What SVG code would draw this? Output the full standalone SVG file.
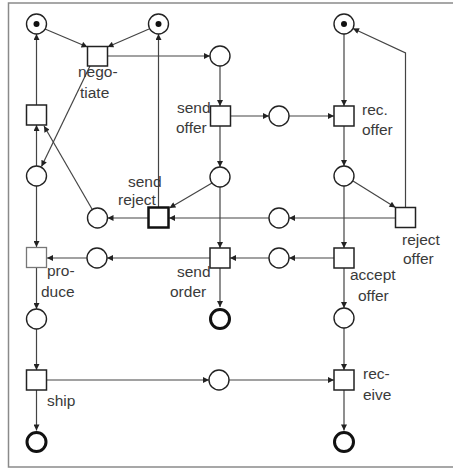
<svg xmlns="http://www.w3.org/2000/svg" width="453" height="469" viewBox="0 0 453 469">
<defs>
<marker id="ah" viewBox="0 0 10 10" refX="10" refY="5" markerWidth="7" markerHeight="6" markerUnits="userSpaceOnUse" orient="auto">
<path d="M0,0 L10,5 L0,10 z" fill="#222"/>
</marker>
</defs>
<style>
.frame{fill:none;stroke:#8a8a8a;stroke-width:1.5}
.pl{fill:#fff;stroke:#222;stroke-width:1.4}
.plf{fill:#fff;stroke:#111;stroke-width:3}
.tok{fill:#111}
.tr{fill:#fff;stroke:#222;stroke-width:1.5}
.trb{fill:#fff;stroke:#111;stroke-width:2.5}
.trg{fill:#fff;stroke:#777;stroke-width:1.3}
.arc{fill:none;stroke:#444;stroke-width:1.2;marker-end:url(#ah)}
.lbl{font-family:"Liberation Sans",Arial,sans-serif;font-size:15.5px;fill:#3a3a3a}
</style>
<rect class="frame" x="8.5" y="3" width="450" height="464"/>
<g id="connectors">
<line class="arc" x1="36.5" y1="105" x2="36.5" y2="34"/>
<line class="arc" x1="45" y1="29" x2="87.5" y2="47"/>
<line class="arc" x1="149" y1="29" x2="107.5" y2="47"/>
<line class="arc" x1="107.5" y1="56" x2="210" y2="56"/>
<line class="arc" x1="158.5" y1="207" x2="158.5" y2="34"/>
<line class="arc" x1="90" y1="66" x2="41.5" y2="166.5"/>
<line class="arc" x1="92" y1="209" x2="44" y2="126"/>
<line class="arc" x1="36.5" y1="166" x2="36.5" y2="125"/>
<line class="arc" x1="36.5" y1="186" x2="36.5" y2="247"/>
<line class="arc" x1="220" y1="66" x2="220" y2="106"/>
<line class="arc" x1="230" y1="116" x2="269" y2="116"/>
<line class="arc" x1="289" y1="116" x2="334" y2="116"/>
<line class="arc" x1="344" y1="34" x2="344" y2="106"/>
<line class="arc" x1="344" y1="126" x2="344" y2="166"/>
<line class="arc" x1="353" y1="181" x2="395.5" y2="207.5"/>
<line class="arc" x1="344" y1="186" x2="344" y2="248"/>
<line class="arc" x1="395.5" y1="218" x2="289" y2="218"/>
<line class="arc" x1="269" y1="218" x2="169" y2="218"/>
<line class="arc" x1="148" y1="218" x2="107.5" y2="218"/>
<line class="arc" x1="220" y1="126" x2="220" y2="167"/>
<line class="arc" x1="212" y1="183" x2="169.5" y2="208"/>
<line class="arc" x1="220" y1="187" x2="220" y2="248"/>
<line class="arc" x1="334" y1="258" x2="289" y2="258"/>
<line class="arc" x1="269" y1="258" x2="230" y2="258"/>
<line class="arc" x1="210" y1="258" x2="107" y2="258"/>
<line class="arc" x1="87" y1="258" x2="47" y2="258"/>
<line class="arc" x1="220" y1="268" x2="220" y2="307"/>
<line class="arc" x1="36.5" y1="267.5" x2="36.5" y2="309"/>
<line class="arc" x1="36.5" y1="329" x2="36.5" y2="370"/>
<line class="arc" x1="46.5" y1="380" x2="209" y2="380"/>
<line class="arc" x1="229" y1="380" x2="334" y2="380"/>
<line class="arc" x1="36.5" y1="390" x2="36.5" y2="430.5"/>
<line class="arc" x1="344" y1="268" x2="344" y2="308"/>
<line class="arc" x1="344" y1="328" x2="344" y2="370"/>
<line class="arc" x1="344" y1="390" x2="344" y2="430.5"/>
<polyline class="arc" points="405.5,207.5 405.5,53 353,28.5"/>
</g>
<g id="p1"><circle class="pl" cx="36.5" cy="24" r="10"/><circle class="tok" cx="36.5" cy="24" r="3"/></g>
<g id="p2"><circle class="pl" cx="158.5" cy="24" r="10"/><circle class="tok" cx="158.5" cy="24" r="3"/></g>
<g id="p3"><circle class="pl" cx="344" cy="24" r="10"/><circle class="tok" cx="344" cy="24" r="3"/></g>
<g id="p4"><circle class="pl" cx="220" cy="56" r="10"/></g>
<g id="p5"><circle class="pl" cx="279" cy="116" r="10"/></g>
<g id="p6"><circle class="pl" cx="36.5" cy="176" r="10"/></g>
<g id="p7"><circle class="pl" cx="220" cy="177" r="10"/></g>
<g id="p8"><circle class="pl" cx="344" cy="176" r="10"/></g>
<g id="p9"><circle class="pl" cx="97.5" cy="218" r="10"/></g>
<g id="p10"><circle class="pl" cx="279" cy="218" r="10"/></g>
<g id="p11"><circle class="pl" cx="97" cy="258" r="10"/></g>
<g id="p12"><circle class="pl" cx="279" cy="258" r="10"/></g>
<g id="p13"><circle class="pl" cx="36.5" cy="319" r="10"/></g>
<g id="p14"><circle class="plf" cx="220" cy="319" r="9.5"/></g>
<g id="p15"><circle class="pl" cx="344" cy="318" r="10"/></g>
<g id="p16"><circle class="pl" cx="219" cy="380" r="10"/></g>
<g id="p17"><circle class="plf" cx="36.5" cy="442" r="9.5"/></g>
<g id="p18"><circle class="plf" cx="344" cy="442" r="9.5"/></g>
<g id="t-left"><rect class="tr" x="26.5" y="105" width="20" height="20"/></g>
<g id="t-negotiate"><rect class="tr" x="87.5" y="46.5" width="20" height="19.5"/><text class="lbl" x="78" y="77">nego-</text><text class="lbl" x="80" y="98">tiate</text></g>
<g id="t-send-offer"><rect class="tr" x="210.5" y="106" width="20" height="20"/><text class="lbl" x="177" y="113">send</text><text class="lbl" x="176" y="133">offer</text></g>
<g id="t-rec-offer"><rect class="tr" x="334" y="106" width="20" height="20"/><text class="lbl" x="362" y="115">rec.</text><text class="lbl" x="362" y="135">offer</text></g>
<g id="t-send-reject"><text class="lbl" x="128" y="187">send</text><text class="lbl" x="118" y="205">reject</text><rect class="trb" x="148.5" y="207.5" width="20" height="20"/></g>
<g id="t-reject-offer"><rect class="tr" x="395.5" y="207.5" width="20" height="20"/><text class="lbl" x="402" y="245">reject</text><text class="lbl" x="403" y="264">offer</text></g>
<g id="t-produce"><rect class="trg" x="26.5" y="247.5" width="20" height="20"/><text class="lbl" x="47" y="276">pro-</text><text class="lbl" x="41" y="297">duce</text></g>
<g id="t-send-order"><rect class="tr" x="210" y="248" width="20" height="20"/><text class="lbl" x="177" y="277">send</text><text class="lbl" x="170" y="297">order</text></g>
<g id="t-accept-offer"><rect class="tr" x="334" y="248" width="20" height="20"/><text class="lbl" x="350" y="280">accept</text><text class="lbl" x="358" y="301">offer</text></g>
<g id="t-ship"><rect class="tr" x="26.5" y="370" width="20" height="20"/><text class="lbl" x="47" y="406">ship</text></g>
<g id="t-receive"><rect class="tr" x="334" y="370" width="20" height="20"/><text class="lbl" x="363" y="379">rec-</text><text class="lbl" x="363" y="400">eive</text></g>
</svg>
